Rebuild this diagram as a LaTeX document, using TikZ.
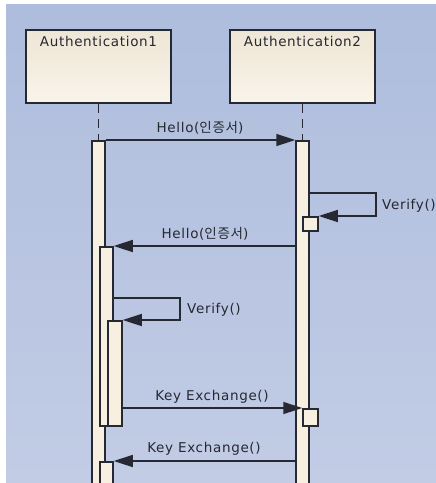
\documentclass[tikz,border=0pt]{standalone}
\usepackage{fontspec}
\setmainfont{DejaVu Sans}[LetterSpace=5]
\newfontfamily\kr{Noto Sans CJK KR}[LetterSpace=5]
\usetikzlibrary{arrows.meta,positioning}
\definecolor{bgtop}{RGB}{174,189,221}
\definecolor{bgbot}{RGB}{194,204,229}
\definecolor{cream}{RGB}{247,239,224}
\definecolor{headtop}{RGB}{238,230,213}
\definecolor{headbot}{RGB}{249,244,235}
\definecolor{inkgray}{RGB}{38,40,50}

\begin{document}
\begin{tikzpicture}[
    x=1pt, y=-1pt,
    >={Triangle[length=19pt,width=12pt]},
    head/.style={
        draw=inkgray,
        line width=1.8pt,
        top color=headtop,
        bottom color=headbot,
        minimum width=145pt,
        minimum height=73pt,
        inner sep=0pt
    },
    bar/.style={
        draw=inkgray,
        line width=1.5pt,
        fill=cream,
        minimum width=13pt,
        inner sep=0pt,
        anchor=north
    },
    msg/.style={
        draw=inkgray,
        line width=1.5pt,
        ->
    },
    txt/.style={
        text=inkgray,
        font=\fontsize{13.5}{15}\selectfont,
        inner sep=1pt
    },
    lifeline/.style={
        draw=inkgray,
        line width=1.9pt,
        dash pattern=on 9pt off 6pt
    }
]

\useasboundingbox (0,0) rectangle (436,483);
\clip (0,0) rectangle (436,483);

% =====================
% SFONDO
% =====================
\fill[white] (0,0) rectangle (436,483);
\fill[top color=bgtop, bottom color=bgbot] (6,4) rectangle (436,483);

% =====================
% LIFELINE
% =====================
\node[head] at (98.5,66.5) (A1) {};
\node[head] at (302.5,66.5) (A2) {};
\node[txt, below=6pt of A1.north] (T1) {Authentication1};
\node[txt, below=6pt of A2.north] (T2) {Authentication2};

\node[bar, minimum height=350pt] at (98.5,140) (B1) {};
\node[bar, minimum height=350pt] at (302.5,140) (B2) {};

\draw[lifeline] (A1.south) -- (B1.north);
\draw[lifeline] (A2.south) -- (B2.north);

% attivazioni
\node[bar, minimum height=179pt] at (106.5,246) (N1) {};
\node[bar, minimum height=105pt, minimum width=14pt] at (115,320) (N2) {};
\node[bar, minimum height=30pt] at (106.5,461) (N3) {};
\node[bar, minimum height=14pt, minimum width=15pt] at (310.5,216) (V2) {};
\node[bar, minimum height=17pt, minimum width=15pt] at (310.5,408) (K2) {};

% =====================
% MESSAGGI
% =====================

% Hello 1 -> 2
\draw[msg] (B1.north east) -- (B2.north west);
\node[txt] at (200,128) (L1) {Hello({\kr 인증서})};

% Verify su 2
\coordinate (s1) at (376,193);
\draw[msg] (B2.east |- s1) -- (s1) |- (V2.north east);
\node[txt, anchor=west] at (381,206) (L2) {Verify()};

% Hello 2 -> 1
\draw[msg] (B2.west |- N1.north) -- (N1.north east);
\node[txt] at (205,234) (L3) {Hello({\kr 인증서})};

% Verify su 1
\coordinate (s2) at (180,298);
\draw[msg] (N1.east |- s2) -- (s2) |- (N2.north east);
\node[txt, anchor=west] at (186,310) (L4) {Verify()};

% Key Exchange 1 -> 2
\draw[msg] (N2.east |- K2.north) -- (K2.north west);
\node[txt] at (212,397) (L5) {Key Exchange()};

% Key Exchange 2 -> 1
\draw[msg] (B2.west |- N3.north) -- (N3.north east);
\node[txt] at (204,449) (L6) {Key Exchange()};

\end{tikzpicture}
\end{document}
